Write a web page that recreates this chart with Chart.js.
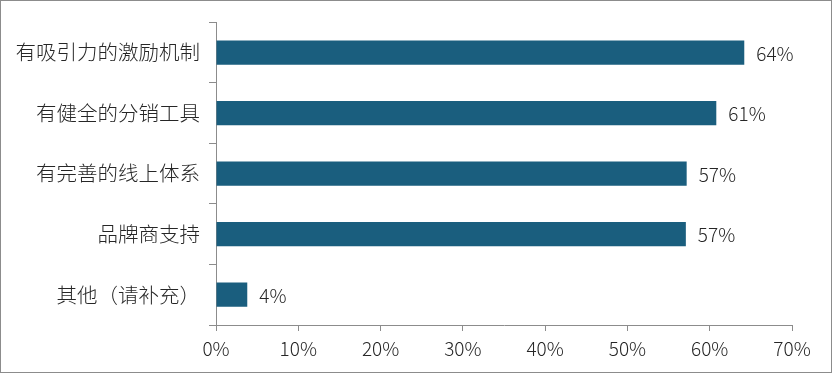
<!DOCTYPE html>
<html>
<head>
<meta charset="utf-8">
<script src="https://cdn.jsdelivr.net/npm/chart.js@4.4.1/dist/chart.umd.min.js"></script>
<style>
    html, body { margin: 0; padding: 0; background: #fff; }
    #wrap { width: 832px; height: 373px; box-sizing: border-box; border: 1px solid #8c8c8c; }
    canvas { display: block; }
</style>
</head>
<body>
<div id="wrap"><canvas id="chart" width="830" height="371"></canvas></div>
<script>
// data
const categories = ['有吸引力的激励机制', '有健全的分销工具', '有完善的线上体系', '品牌商支持', '其他（请补充）'];
const shares = [64.2, 60.8, 57.2, 57.1, 3.8];
const shareLabels = ['64%', '61%', '57%', '57%', '4%'];
const xTicks = [0, 10, 20, 30, 40, 50, 60, 70];

const barColor = '#1a5e7e',
    axisColor = '#8c8c8c',
    textColor = '#262626',
    numFont = "'Liberation Sans Narrow', 'Noto Sans CJK SC', sans-serif",
    catFont = "'Noto Sans CJK SC', sans-serif";

// value labels right of each bar
const valueLabels = {
    id: 'valueLabels',
    afterDatasetsDraw: function (chart) {
        const ctx = chart.ctx,
            meta = chart.getDatasetMeta(0);

        ctx.save();
        ctx.font = '300 19px ' + numFont;
        ctx.fillStyle = textColor;
        ctx.textAlign = 'left';
        ctx.textBaseline = 'middle';
        meta.data.forEach((bar, i) => {
            ctx.fillText(shareLabels[i], bar.x + 12, bar.y + 1);
        });
        ctx.restore();
    }
};

new Chart(document.getElementById('chart'), {
    type: 'bar',
    data: {
        labels: categories,
        datasets: [{
            data: shares,
            backgroundColor: barColor,
            borderWidth: 0,
            barPercentage: 0.4,
            categoryPercentage: 1
        }]
    },
    options: {
        indexAxis: 'y',
        responsive: false,
        animation: false,
        layout: { padding: { top: 21, right: 39, left: 0, bottom: 0 } },
        plugins: {
            legend: { display: false },
            tooltip: { enabled: false }
        },
        scales: {
            x: {
                min: 0,
                max: 70,
                afterBuildTicks: function (scale) {
                    scale.ticks = xTicks.map(v => ({ value: v }));
                },
                afterFit: function (scale) { scale.height = 47; },
                grid: { drawOnChartArea: false, color: axisColor, tickLength: 6 },
                border: { color: axisColor, width: 1 },
                ticks: {
                    color: textColor,
                    font: { family: numFont, size: 19, weight: 300 },
                    padding: 6,
                    maxRotation: 0,
                    callback: v => v + '%'
                }
            },
            y: {
                afterFit: function (scale) { scale.width = 215; },
                grid: { drawOnChartArea: false, color: axisColor, tickLength: 7, offset: true },
                border: { color: axisColor, width: 1 },
                ticks: {
                    color: textColor,
                    font: { family: catFont, size: 20.5, weight: 300 },
                    padding: 9
                }
            }
        }
    },
    plugins: [valueLabels]
});
</script>
</body>
</html>
